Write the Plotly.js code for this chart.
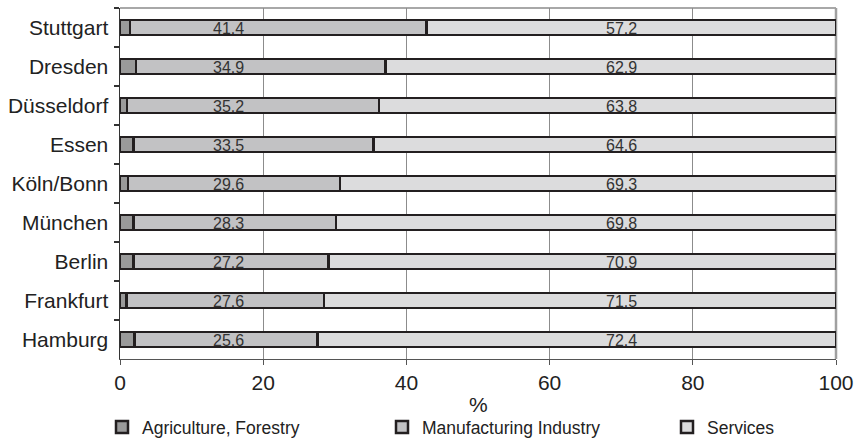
<!DOCTYPE html>
<html>
<head>
<meta charset="utf-8">
<script src="https://cdn.plot.ly/plotly-3.0.1.min.js"></script>
<style>
  html, body { margin: 0; padding: 0; background: #fff; }
  #chart { width: 856px; height: 443px; }
</style>
</head>
<body>
<div id="chart"></div>
<script>
// Employment shares by sector (%), cities listed top to bottom
const cities = ["Stuttgart", "Dresden", "Düsseldorf", "Essen", "Köln/Bonn", "München", "Berlin", "Frankfurt", "Hamburg"];
const agriculture = [1.4, 2.2, 1.0, 1.9, 1.1, 1.9, 1.9, 0.9, 2.0];
const manufacturing = [41.4, 34.9, 35.2, 33.5, 29.6, 28.3, 27.2, 27.6, 25.6];
const services = [57.2, 62.9, 63.8, 64.6, 69.3, 69.8, 70.9, 71.5, 72.4];
const seriesNames = ["Agriculture, Forestry", "Manufacturing Industry", "Services"];
const xTicks = [0, 20, 40, 60, 80, 100];
const xTitle = "%";

// x positions of the value labels for the two larger sectors
const manufacturingLabelX = 15.1;
const servicesLabelX = 70.1;

const FONT = "Liberation Sans, Arial, sans-serif";
const fills = ["#9a9a9a", "#c2c2c4", "#dcdcdd"];
const outline = { color: "#231f20", width: 2.5 };
const barWidth = 0.38;
const legendIds = ["legend", "legend2", "legend3"];
// left edges (container fraction) of the three legend entries
const legendX = [102 / 856, 382 / 856, 667 / 856];

function barTrace(k, values) {
  return {
    type: "bar",
    orientation: "h",
    name: seriesNames[k],
    x: values,
    y: cities,
    width: barWidth,
    marker: { color: fills[k], line: outline },
    legend: legendIds[k],
    hoverinfo: "x+y+name"
  };
}

const data = [
  barTrace(0, agriculture),
  barTrace(1, manufacturing),
  barTrace(2, services)
];

const labelFont = { family: FONT, size: 16, color: "#333" };
const annotations = [];
cities.forEach((c, i) => {
  annotations.push({ x: manufacturingLabelX, y: c, xref: "x", yref: "y", text: manufacturing[i].toFixed(1),
    showarrow: false, font: labelFont, yshift: -1 });
  annotations.push({ x: servicesLabelX, y: c, xref: "x", yref: "y", text: services[i].toFixed(1),
    showarrow: false, font: labelFont, yshift: -1 });
});
// x-axis unit label, set below the tick labels
annotations.push({ x: 0.5, y: -0.131, xref: "paper", yref: "paper", xanchor: "center", yanchor: "middle",
  text: xTitle, showarrow: false, font: { family: FONT, size: 21, color: "#222" } });

function legendBox(k) {
  return {
    orientation: "h",
    xref: "container",
    x: legendX[k],
    xanchor: "left",
    yref: "container",
    y: 0.036,
    yanchor: "middle",
    font: { family: FONT, size: 17.5, color: "#222" },
    bgcolor: "rgba(0,0,0,0)"
  };
}

const layout = {
  width: 856,
  height: 443,
  margin: { l: 120, r: 20, t: 8, b: 84, autoexpand: false },
  paper_bgcolor: "#fff",
  plot_bgcolor: "#fff",
  barmode: "stack",
  font: { family: FONT, size: 21, color: "#222" },
  xaxis: {
    range: [0, 100],
    tickvals: xTicks,
    ticktext: xTicks.map(String),
    showgrid: true,
    gridcolor: "#8c8c8c",
    gridwidth: 1.2,
    zeroline: false,
    showline: true,
    linecolor: "#555",
    linewidth: 1.2,
    ticks: "outside",
    ticklen: 5,
    tickcolor: "#555",
    tickfont: { family: FONT, size: 21, color: "#222" },
    ticklabelstandoff: 0,
    fixedrange: true,
    automargin: false
  },
  yaxis: {
    type: "category",
    autorange: "reversed",
    showgrid: false,
    zeroline: false,
    showline: true,
    linecolor: "#333",
    linewidth: 1.5,
    ticks: "outside",
    tickson: "boundaries",
    ticklen: 5,
    tickcolor: "#333",
    tickwidth: 1.2,
    tickfont: { family: FONT, size: 21, color: "#222" },
    ticklabelstandoff: 6,
    fixedrange: true,
    automargin: false
  },
  shapes: [
    // plot frame: top and right edges
    { type: "line", xref: "paper", yref: "paper", x0: 0, x1: 1, y0: 1, y1: 1,
      line: { color: "#a8a8a8", width: 2 }, layer: "below" },
    { type: "line", xref: "paper", yref: "paper", x0: 1, x1: 1, y0: 0, y1: 1,
      line: { color: "#a0a0a0", width: 2.5 }, layer: "below" }
  ],
  annotations: annotations,
  showlegend: true,
  legend: legendBox(0),
  legend2: legendBox(1),
  legend3: legendBox(2)
};

Plotly.newPlot("chart", data, layout, { displayModeBar: false, staticPlot: true });
</script>
</body>
</html>
